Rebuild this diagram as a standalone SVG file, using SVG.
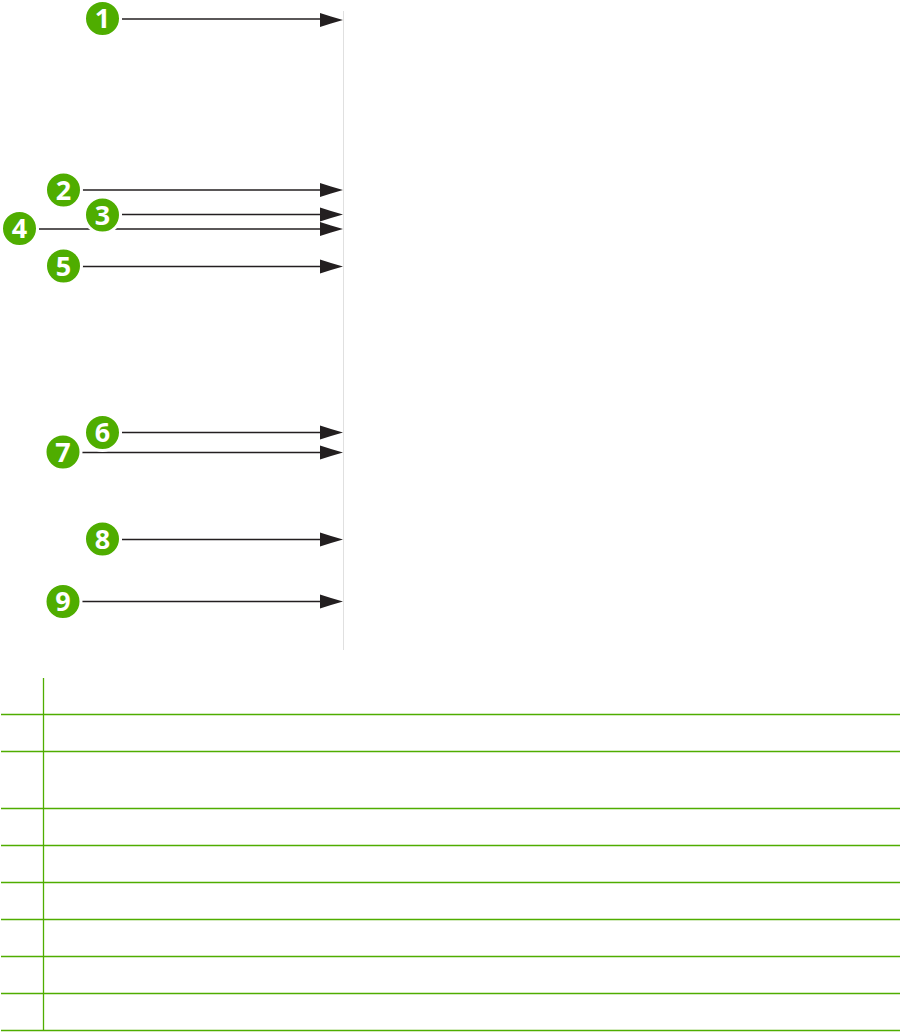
<svg xmlns="http://www.w3.org/2000/svg" width="901" height="1032" viewBox="0 0 901 1032">
<style>
.c{stroke:#231f20;stroke-width:1.4;fill:none}
.t{stroke:#4fad00;stroke-width:1.3;fill:none}
.b{fill:#4fad00;stroke:#fff;stroke-width:3}
.n{font-family:"Open Sans","Liberation Sans",sans-serif;font-weight:700;font-size:27px;fill:#fff;text-anchor:middle}
</style>
<defs>
<polygon id="h" points="-23,-7 -12,-3.500 0,0 -12,3.500 -23,7" fill="#231f20"/>
</defs>
<rect width="901" height="1032" fill="#fff"/>
<line x1="343.5" y1="11" x2="343.5" y2="650" stroke="#e0e0e0" stroke-width="1"/>
<g id="connectors">
<path class="c" d="M122 19H322"/><use href="#h" x="343" y="20"/>
<path class="c" d="M82 190H322"/><use href="#h" x="343" y="190"/>
<path class="c" d="M122 214.500H322"/><use href="#h" x="343" y="214.500"/>
<path class="c" d="M39 229H322"/><use href="#h" x="343" y="229"/>
<path class="c" d="M82 266.500H322"/><use href="#h" x="343" y="266.500"/>
<path class="c" d="M122 432.500H322"/><use href="#h" x="343" y="432.500"/>
<path class="c" d="M82 452.500H322"/><use href="#h" x="343" y="452.500"/>
<path class="c" d="M122 539.500H322"/><use href="#h" x="343" y="539.500"/>
<path class="c" d="M82 601.500H322"/><use href="#h" x="343" y="601.500"/>
</g>
<g id="node1"><circle class="b" cx="102.500" cy="18.500" r="18"/><text class="n" x="102.500" y="28">1</text></g>
<g id="node2"><circle class="b" cx="63.500" cy="190" r="18"/><text class="n" x="63.500" y="199.500">2</text></g>
<g id="node4"><circle class="b" cx="19.500" cy="228.500" r="18"/><text class="n" x="19.500" y="238">4</text></g>
<g id="node3"><circle class="b" cx="102.500" cy="215" r="18"/><text class="n" x="102.500" y="224.500">3</text></g>
<g id="node5"><circle class="b" cx="63.500" cy="266" r="18"/><text class="n" x="63.500" y="275.500">5</text></g>
<g id="node6"><circle class="b" cx="102.500" cy="432.500" r="18"/><text class="n" x="102.500" y="442">6</text></g>
<g id="node7"><circle class="b" cx="63" cy="452" r="18"/><text class="n" x="63" y="461.500">7</text></g>
<g id="node8"><circle class="b" cx="102.500" cy="539" r="18"/><text class="n" x="102.500" y="548.500">8</text></g>
<g id="node9"><circle class="b" cx="63" cy="601.500" r="18"/><text class="n" x="63" y="611">9</text></g>
<g id="table">
<path class="t" d="M43.500 678V1030"/>
<path class="t" d="M1 714.500H900M1 751.500H900M1 808.500H900M1 845.500H900M1 882.500H900M1 919.500H900M1 956.500H900M1 993.500H900M1 1030.500H900"/>
</g>
</svg>
